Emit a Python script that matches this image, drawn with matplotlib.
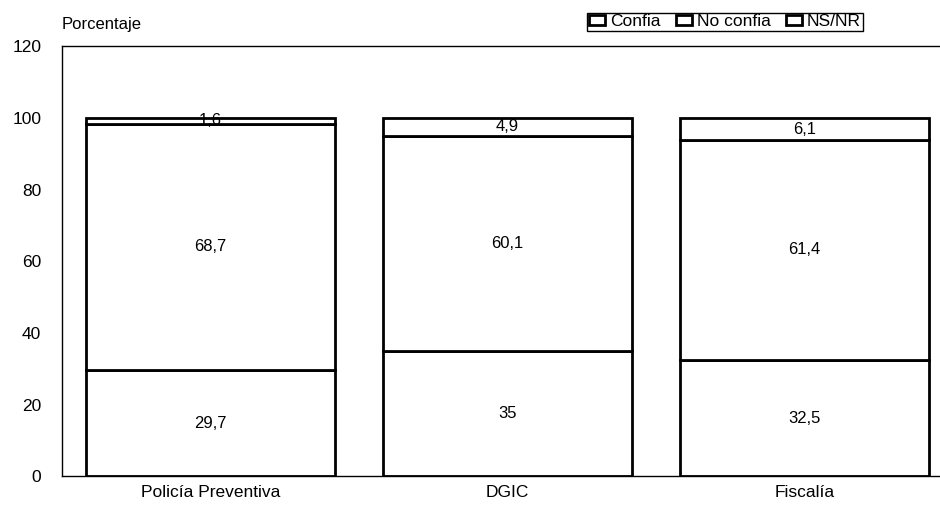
import numpy as np
import matplotlib.pyplot as plt

plt.rcParams['font.family'] = ['Liberation Sans', 'DejaVu Sans']

# Data
categories = ["Policía Preventiva", "DGIC", "Fiscalía"]
confia = [29.7, 35, 32.5]
no_confia = [68.7, 60.1, 61.4]
ns_nr = [1.6, 4.9, 6.1]
series = [("Confia", confia), ("No confia", no_confia), ("NS/NR", ns_nr)]

fig = plt.figure(figsize=(9.4, 5.05), dpi=100)
ax = fig.add_axes([0.066, 0.057, 0.948, 0.851])

x = np.arange(len(categories))
bottom = np.zeros(len(categories))
for name, vals in series:
    vals = np.array(vals)
    ax.bar(x, vals, width=0.84, bottom=bottom, color="white",
           edgecolor="black", linewidth=2.0, label=name)
    for xi, b, v in zip(x, bottom, vals):
        ax.text(xi, b + v / 2, f"{v:g}".replace(".", ","), ha="center",
                va="center", fontsize=12)
    bottom += vals

ax.set_xlim(-0.5, 2.5)
ax.set_ylim(0, 120)
ax.set_yticks(range(0, 121, 20))
ax.set_xticks(x)
ax.set_xticklabels(categories)
ax.tick_params(axis="y", length=0, labelsize=12.5, pad=15)
ax.tick_params(axis="x", length=0, labelsize=12.5, pad=6)
for s in ax.spines.values():
    s.set_linewidth(1.0)
ax.spines["right"].set_visible(False)

fig.text(0.066, 0.937, "Porcentaje", fontsize=12, ha="left", va="bottom")

leg = fig.legend(loc="upper left", bbox_to_anchor=(0.621, 0.982), ncol=3,
                 fontsize=12.5, handlelength=0.9, handleheight=0.55,
                 handletextpad=0.3, columnspacing=0.9, borderpad=0.1,
                 borderaxespad=0.2, fancybox=False, edgecolor="black",
                 framealpha=1)
leg.get_frame().set_linewidth(1.0)

fig.savefig("out.png", dpi=100)
